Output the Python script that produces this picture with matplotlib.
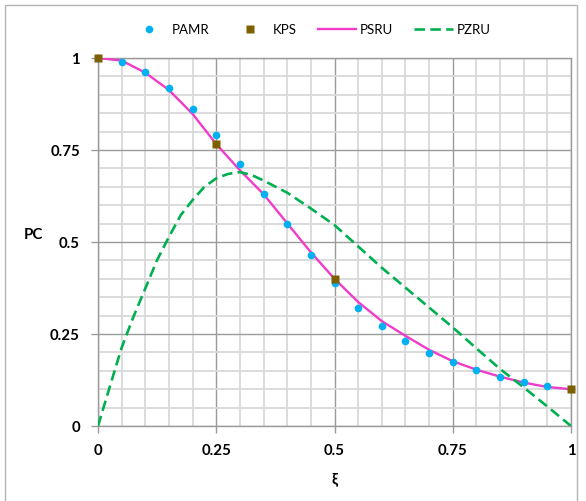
import matplotlib
matplotlib.use("Agg")
import matplotlib.pyplot as plt
from matplotlib.patches import Rectangle
from matplotlib.ticker import MultipleLocator

plt.rcParams["font.family"] = ["Lato", "DejaVu Sans"]

# ── data ─────────────────────────────────────────────────────────────────────
xi_pamr = [0.0, 0.05, 0.10, 0.15, 0.20, 0.25, 0.30, 0.35, 0.40, 0.45, 0.50,
           0.55, 0.60, 0.65, 0.70, 0.75, 0.80, 0.85, 0.90, 0.95, 1.00]
pc_pamr = [1.0, 0.989, 0.962, 0.918, 0.861, 0.791, 0.712, 0.631, 0.548, 0.466, 0.389,
           0.322, 0.272, 0.232, 0.199, 0.174, 0.152, 0.134, 0.120, 0.108, 0.100]

xi_kps = [0.0, 0.25, 0.5, 1.0]
pc_kps = [1.0, 0.766, 0.400, 0.100]

xi_psru = [0.0, 0.05, 0.10, 0.15, 0.20, 0.25, 0.30, 0.35, 0.40, 0.45, 0.50,
           0.55, 0.60, 0.65, 0.70, 0.75, 0.80, 0.85, 0.90, 0.95, 1.00]
pc_psru = [1.0, 0.993, 0.960, 0.913, 0.848, 0.766, 0.695, 0.630, 0.551, 0.472, 0.400,
           0.337, 0.285, 0.245, 0.207, 0.176, 0.153, 0.134, 0.118, 0.106, 0.100]

xi_pzru = [0.0, 0.025, 0.05, 0.075, 0.10, 0.125, 0.15, 0.175, 0.20, 0.225, 0.25, 0.275,
           0.30, 0.325, 0.35, 0.40, 0.45, 0.50, 0.55, 0.60, 0.65, 0.70, 0.75, 0.80, 0.85,
           0.90, 0.95, 1.00]
pc_pzru = [0.0, 0.107, 0.213, 0.297, 0.374, 0.451, 0.514, 0.573, 0.614, 0.650, 0.673, 0.685,
           0.690, 0.682, 0.667, 0.634, 0.591, 0.546, 0.488, 0.430, 0.376, 0.322, 0.268, 0.211,
           0.155, 0.105, 0.053, 0.0]

ticks = [0, 0.25, 0.5, 0.75, 1]
tick_labels = ["0", "0.25", "0.5", "0.75", "1"]

# ── figure ───────────────────────────────────────────────────────────────────
fig = plt.figure(figsize=(5.86, 5.01), dpi=100)
ax = fig.add_axes([98 / 586, 1 - 426 / 501, 473 / 586, 368 / 501])

# outer chart frame (bottom edge falls outside the image)
fig.patches.append(Rectangle((5 / 586, -0.05), 572 / 586, 1.05 - 5 / 501,
                             transform=fig.transFigure, fill=False,
                             edgecolor="#B4B4B4", lw=1.0, clip_on=False))

ax.set_xlim(0, 1)
ax.set_ylim(0, 1)
ax.xaxis.set_major_locator(MultipleLocator(0.25))
ax.yaxis.set_major_locator(MultipleLocator(0.25))
ax.xaxis.set_minor_locator(MultipleLocator(0.05))
ax.yaxis.set_minor_locator(MultipleLocator(0.05))
ax.grid(which="minor", color="#D9D9D9", lw=1.3)
ax.grid(which="major", color="#9A9A9A", lw=1.0)
ax.set_axisbelow(True)
for s in ax.spines.values():
    s.set_color("#9A9A9A")
    s.set_linewidth(1.0)
ax.tick_params(which="major", length=5, color="#9A9A9A", width=1.0, pad=8)
ax.tick_params(which="minor", length=0)
ax.set_xticks(ticks, tick_labels, fontsize=10.8, fontweight="bold")
ax.set_yticks(ticks, tick_labels, fontsize=10.8, fontweight="bold")

ax.plot(xi_psru, pc_psru, color="#F03CC8", lw=1.7, label="PSRU", zorder=3)
ax.plot(xi_pzru, pc_pzru, color="#00B050", lw=1.9, ls=(0, (4, 2)), label="PZRU", zorder=3)
ax.plot(xi_pamr, pc_pamr, "o", color="#00B0F0", ms=5.5, mec="none", label="PAMR",
        clip_on=False, zorder=4)
ax.plot(xi_kps, pc_kps, "s", color="#7F6000", ms=5.2, mec="none", label="KPS",
        clip_on=False, zorder=5)

ax.set_xlabel("ξ", fontsize=10.8, fontweight="bold", labelpad=10)
ax.set_ylabel("PC", fontsize=10.8, fontweight="bold", rotation=0, labelpad=0)
ax.yaxis.set_label_coords(-65 / 473, 0.5)

handles, labels = ax.get_legend_handles_labels()
order = [2, 3, 0, 1]
fig.legend([handles[i] for i in order], [labels[i] for i in order],
           loc="center", bbox_to_anchor=(310 / 586, 1 - 30 / 501), ncol=4,
           frameon=False, fontsize=9.5, handlelength=2.9, columnspacing=1.6,
           handletextpad=0.3)

fig.savefig("out.png", dpi=100)
